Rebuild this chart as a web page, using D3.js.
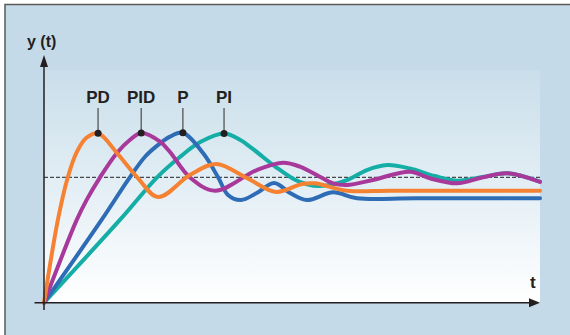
<!DOCTYPE html>
<html>
<head>
<meta charset="utf-8">
<script src="https://cdn.jsdelivr.net/npm/d3@7"></script>
<style>
  html, body { margin: 0; padding: 0; background: #ffffff; }
  svg { display: block; }
  text { font-family: "Liberation Sans", Arial, sans-serif; font-weight: bold; fill: #231f20; }
</style>
</head>
<body>
<svg id="chart" width="570" height="335"></svg>
<script>
// ---- data (t in arbitrary time units 0..100, y normalised: setpoint = 1) ----
const seriesNames = ["PD", "PID", "P", "PI"];
const seriesColors = ["#f58233", "#a8399a", "#2e6db5", "#14aea6"];

const pdT = [0, 2.8, 4.8, 6.6, 8.5, 10.9, 14.7, 18.8, 23.0, 29.4, 34.7, 40.9, 46.8, 52.0, 54.6, 61.1, 70, 100];
const pdY = [0, 0.66, 1.0, 1.20, 1.313, 1.351, 1.194, 1.0, 0.843, 1.018, 1.106, 0.994, 0.883, 0.947, 0.952, 0.893, 0.893, 0.893];

const pidT = [0, 6.6, 8.6, 11.3, 14.7, 17.3, 19.6, 23.4, 25.4, 29.4, 34.5, 42.9, 48.2, 51.6, 55.6, 58.3, 61.1, 66.3, 73.8, 77.8, 83.3, 88.5, 93.4, 100];
const pidY = [0, 0.66, 0.82, 1.0, 1.194, 1.297, 1.353, 1.284, 1.202, 1.0, 0.893, 1.058, 1.116, 1.085, 1.005, 0.952, 0.939, 0.979, 1.045, 0.992, 0.952, 1.0, 1.032, 0.963];

const pT = [0, 11.6, 17.3, 20.5, 23.4, 25.4, 28.0, 32.1, 35.1, 37.1, 39.7, 42.9, 46.4, 49.6, 53.0, 58.3, 63.1, 75, 100];
const pY = [0, 0.66, 1.0, 1.17, 1.271, 1.324, 1.355, 1.191, 1.0, 0.859, 0.819, 0.875, 0.955, 0.875, 0.819, 0.880, 0.833, 0.833, 0.833];

const piT = [0, 15.3, 22.8, 27.4, 31.5, 36.3, 39.5, 42.3, 46.8, 50.6, 53.0, 55.7, 61.1, 65.1, 69.2, 73.8, 78.8, 83.3, 88.5, 93.4, 100];
const piY = [0, 0.66, 1.0, 1.162, 1.281, 1.349, 1.30, 1.22, 1.08, 0.98, 0.945, 0.931, 0.978, 1.058, 1.098, 1.07, 1.01, 0.973, 1.002, 1.032, 0.965];

const allT = [pdT, pidT, pT, piT];
const allY = [pdY, pidY, pY, piY];
const setpoint = 1.0;

// ---- layout ----
const svg = d3.select("#chart");
const W = 570, H = 335;
const x0 = 44, x1 = 540, yBase = 302.7, ySet = 177.3;

const x = d3.scaleLinear().domain([0, 100]).range([x0, x1]);
const y = d3.scaleLinear().domain([0, 1]).range([yBase, ySet]);

// background + frame
svg.append("rect").attr("x", 5).attr("y", 4.5).attr("width", W).attr("height", H)
  .attr("fill", "#c4dae8").attr("stroke", "#5a5a5a").attr("stroke-width", 1.5);

const defs = svg.append("defs");
const grad = defs.append("linearGradient").attr("id", "plotGrad")
  .attr("x1", 0).attr("y1", 0).attr("x2", 0).attr("y2", 1);
grad.append("stop").attr("offset", "0%").attr("stop-color", "#c9deea");
grad.append("stop").attr("offset", "55%").attr("stop-color", "#e6f0f6");
grad.append("stop").attr("offset", "100%").attr("stop-color", "#ffffff");

svg.append("rect").attr("x", x0).attr("y", 70).attr("width", x1 - x0).attr("height", yBase - 70)
  .attr("fill", "url(#plotGrad)");

// dashed setpoint line
svg.append("line")
  .attr("x1", x(0)).attr("x2", x(100))
  .attr("y1", y(setpoint)).attr("y2", y(setpoint))
  .attr("stroke", "#222").attr("stroke-width", 1).attr("stroke-dasharray", "4,2");

// curves
const line = d3.line().x(d => x(d[0])).y(d => y(d[1])).curve(d3.curveCatmullRom.alpha(0.5));
const curves = seriesNames.map((n, i) => allT[i].map((t, j) => [t, allY[i][j]]));
[3, 2, 1, 0].forEach(i => {
  svg.append("path").datum(curves[i])
    .attr("d", line)
    .attr("fill", "none")
    .attr("stroke", seriesColors[i])
    .attr("stroke-width", 4)
    .attr("stroke-linejoin", "round")
    .attr("stroke-linecap", "round");
});

// axes
const axisG = svg.append("g");
axisG.append("line").attr("x1", x0).attr("x2", x0).attr("y1", 66).attr("y2", 310)
  .attr("stroke", "#231f20").attr("stroke-width", 1.5);
axisG.append("path").attr("d", `M${x0},55 L${x0 - 4},67 L${x0 + 4},67 Z`).attr("fill", "#231f20");
axisG.append("line").attr("x1", 34.5).attr("x2", 530).attr("y1", yBase).attr("y2", yBase)
  .attr("stroke", "#231f20").attr("stroke-width", 1.5);
axisG.append("path").attr("d", `M540,${yBase} L529,${yBase - 4.5} L529,${yBase + 4.5} Z`).attr("fill", "#231f20");

svg.append("text").attr("x", 27).attr("y", 47).attr("font-size", 16).text("y (t)");
svg.append("text").attr("x", 530).attr("y", 288).attr("font-size", 17).text("t");

// peak markers + labels
seriesNames.forEach((n, i) => {
  const ys = allY[i];
  const k = d3.maxIndex(ys);
  const px = x(allT[i][k]), py = y(ys[k]);
  svg.append("line").attr("x1", px).attr("x2", px).attr("y1", 108).attr("y2", py)
    .attr("stroke", "#555").attr("stroke-width", 1.3);
  svg.append("circle").attr("cx", px).attr("cy", py).attr("r", 3.5).attr("fill", "#231f20");
  svg.append("text").attr("x", px).attr("y", 103).attr("text-anchor", "middle")
    .attr("font-size", 17).text(n);
});
</script>
</body>
</html>
